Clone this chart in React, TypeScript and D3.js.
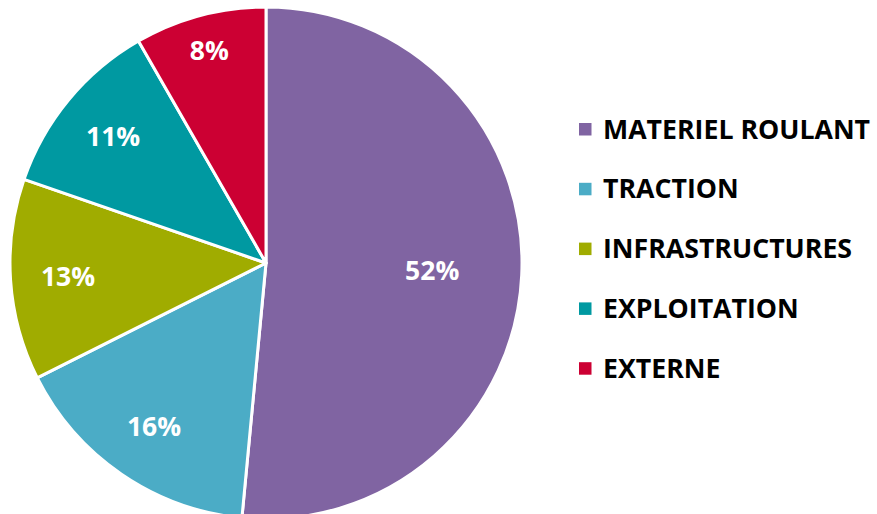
import React from "react";
import * as d3 from "d3";

const categories = ["MATERIEL ROULANT", "TRACTION", "INFRASTRUCTURES", "EXPLOITATION", "EXTERNE"];
const values = [51.5, 16.1, 12.7, 11.4, 8.3];
const colors = ["#8064A2", "#4BACC6", "#A0AC00", "#0099A1", "#CC0033"];

const W = 877;
const H = 514;
const FONT = "'Open Sans', 'Liberation Sans', sans-serif";

export default function App() {
  const cx = 266, cy = 263, r = 256;
  const pie = d3.pie<number>().sort(null).value((d) => d);
  const arcs = pie(values);
  const arcGen = d3.arc<d3.PieArcDatum<number>>().innerRadius(0).outerRadius(r);
  const labelFrac = (a: d3.PieArcDatum<number>) => {
    const span = a.endAngle - a.startAngle;
    if (span > Math.PI) return 0.65;
    if (span < 0.6) return 0.86;
    return 0.775;
  };
  const total = d3.sum(values);
  return (
    <svg width={W} height={H} style={{ position: "absolute", left: 0, top: 0, background: "#fff" }}>
      <g transform={`translate(${cx},${cy})`}>
        {arcs.map((a, i) => (
          <path key={i} d={arcGen(a) || ""} fill={colors[i]} stroke="#fff" strokeWidth={3} strokeLinejoin="round" />
        ))}
        {arcs.map((a, i) => {
          const lr = r * labelFrac(a);
          const la = d3.arc<d3.PieArcDatum<number>>().innerRadius(lr).outerRadius(lr);
          const [x, y] = la.centroid(a);
          return (
            <text key={i} x={x} y={y} dy="0.36em" textAnchor="middle" fill="#fff" fontFamily={FONT} fontWeight={700} fontSize={26.5}>
              {Math.round((a.data / total) * 100)}%
            </text>
          );
        })}
      </g>
      <g>
        {categories.map((c, i) => (
          <g key={c} transform={`translate(579,${129 + i * 59.8})`}>
            <rect x={0} y={-6} width={12.5} height={12.5} fill={colors[i]} />
            <text x={24} y={0} dy="0.36em" fontFamily={FONT} fontWeight={700} fontSize={26.7} fill="#000">
              {c}
            </text>
          </g>
        ))}
      </g>
    </svg>
  );
}
